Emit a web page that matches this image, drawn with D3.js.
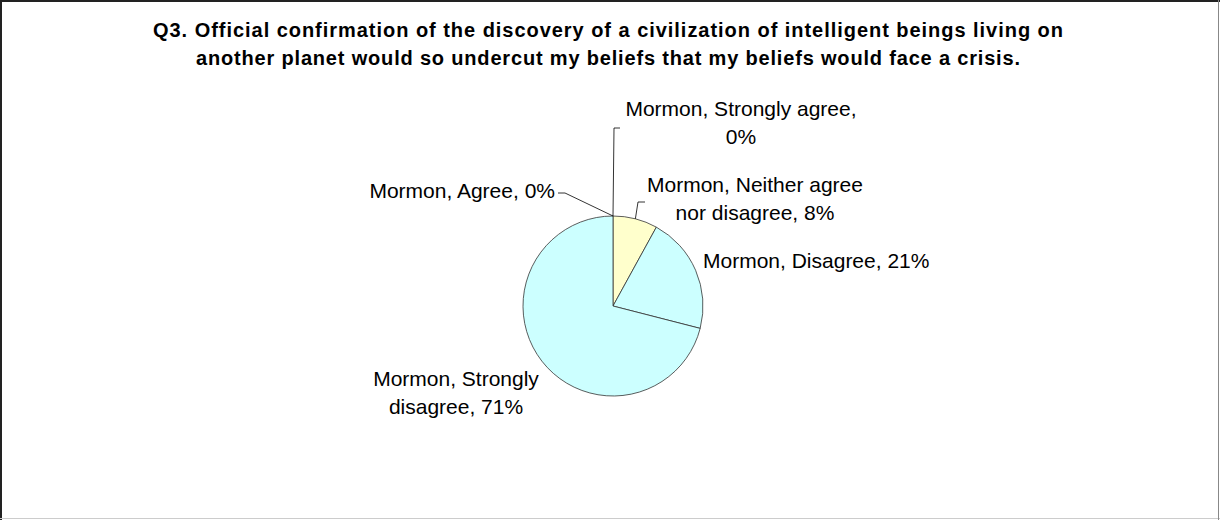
<!DOCTYPE html>
<html>
<head>
<meta charset="utf-8">
<script src="https://cdn.jsdelivr.net/npm/d3@7"></script>
<style>
  body { margin: 0; background: #fff; }
  svg { display: block; font-family: "Liberation Sans", Arial, sans-serif; }
</style>
</head>
<body>
<svg width="1220" height="520"></svg>
<script>
// chart data
var titleLines = [
    "Q3. Official confirmation of the discovery of a civilization of intelligent beings living on",
    "another planet would so undercut my beliefs that my beliefs would face a crisis."
];
var series = "Mormon";
var categories = ["Strongly agree", "Agree", "Neither agree nor disagree", "Disagree", "Strongly disagree"];
var values = [0, 0, 8, 21, 71];
var colors = ["#9999FF", "#993366", "#FFFFCC", "#CCFFFF", "#CCFFFF"];

// label text lines for each slice (as wrapped in the chart)
var labelLines = [
    ["Mormon, Strongly agree,", "0%"],
    ["Mormon, Agree, 0%"],
    ["Mormon, Neither agree", "nor disagree, 8%"],
    ["Mormon, Disagree, 21%"],
    ["Mormon, Strongly", "disagree, 71%"]
];

var svg = d3.select("svg"),
    width = +svg.attr("width"),
    height = +svg.attr("height"),
    cx = 613, cy = 306, radius = 90;

// chart frame
svg.append("line").attr("x1", 1).attr("y1", 0).attr("x2", 1).attr("y2", height)
    .attr("stroke", "#222").attr("stroke-width", 2);
svg.append("line").attr("x1", 0).attr("y1", 1).attr("x2", width).attr("y2", 1)
    .attr("stroke", "#222").attr("stroke-width", 2);
svg.append("line").attr("x1", 0).attr("y1", height - 1.5).attr("x2", width).attr("y2", height - 1.5)
    .attr("stroke", "#ccc").attr("stroke-width", 1);
svg.append("line").attr("x1", width - 1.5).attr("y1", 0).attr("x2", width - 1.5).attr("y2", height)
    .attr("stroke", "#888").attr("stroke-width", 1);

var titleWidths = [910, 824];
svg.selectAll(".title")
    .data(titleLines)
    .enter()
    .append("text")
    .attr("class", "title")
    .attr("x", 608)
    .attr("y", function (d, i) { return 37 + i * 28; })
    .attr("text-anchor", "middle")
    .attr("font-size", "20px")
    .attr("font-weight", "bold")
    .attr("textLength", function (d, i) { return titleWidths[i]; })
    .attr("lengthAdjust", "spacing")
    .text(function (d) { return d; });

var pie = d3.pie().sort(null).value(function (d) { return d; });
var arcs = pie(values);
var arc = d3.arc().innerRadius(0).outerRadius(radius);

var g = svg.append("g")
    .attr("transform", "translate(" + cx + "," + cy + ")");

g.selectAll(".slice")
    .data(arcs)
    .enter()
    .append("path")
    .attr("class", "slice")
    .attr("d", arc)
    .attr("fill", function (d, i) { return colors[i]; })
    .attr("stroke", "#333")
    .attr("stroke-width", 0.8);

// edge point of a slice at its middle angle
function edge(d) {
    var a = (d.startAngle + d.endAngle) / 2;
    return [radius * Math.sin(a), -radius * Math.cos(a)];
}

// label layout relative to the pie centre: anchor, x, first baseline
var labelPos = [
    { anchor: "middle", x: 128, y: -190 },
    { anchor: "end", x: -58, y: -108 },
    { anchor: "middle", x: 142, y: -114 },
    { anchor: "start", x: 90, y: -38 },
    { anchor: "middle", x: -157, y: 80 }
];
// leader lines (elbow points relative to the centre), null = no leader
var leaders = [
    [[1, -178], [7, -178]],
    [[-48, -113], [-55, -113]],
    [[25, -104], [32, -104]],
    null,
    null
];

var lineH = 28;

arcs.forEach(function (d, i) {
    var p = labelPos[i];
    var t = g.append("text")
        .attr("text-anchor", p.anchor)
        .attr("font-size", "21px")
        .attr("fill", "#000");
    labelLines[i].forEach(function (line, j) {
        t.append("tspan")
            .attr("x", p.x)
            .attr("y", p.y + j * lineH)
            .text(line);
    });
    if (leaders[i]) {
        var pts = [edge(d)].concat(leaders[i]);
        g.append("path")
            .attr("d", d3.line()(pts))
            .attr("fill", "none")
            .attr("stroke", "#000")
            .attr("stroke-width", 0.8);
    }
});
</script>
</body>
</html>
